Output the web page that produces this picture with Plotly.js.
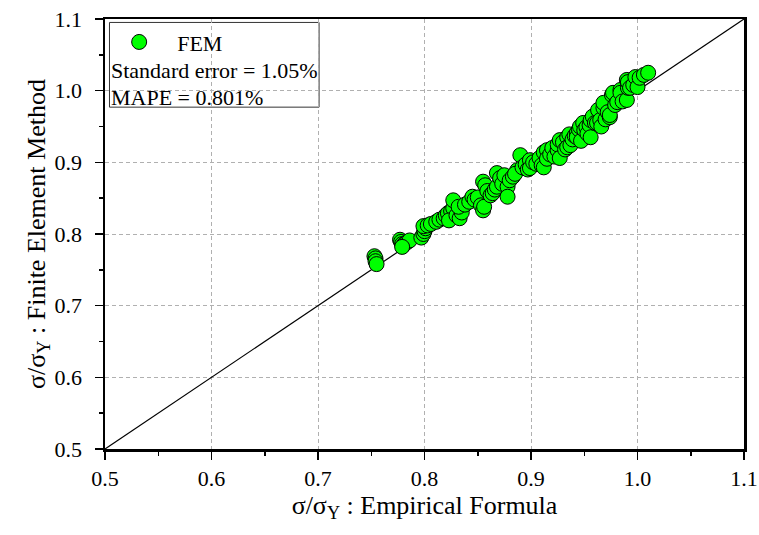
<!DOCTYPE html>
<html><head><meta charset="utf-8">
<script src="https://cdn.plot.ly/plotly-3.0.1.min.js"></script>
<style>html,body{margin:0;padding:0;background:#fff}#chart{width:759px;height:535px}</style>
</head><body><div id="chart"></div>
<script>
const xEmp = [0.753,0.754,0.754,0.755,
0.777,0.778,0.779,0.780,0.782,0.784,0.786,0.779,
0.797,0.799,0.800,0.801,0.799,0.803,0.806,
0.811,0.814,0.818,0.820,0.822,0.825,0.827,0.823,0.827,0.830,0.833,0.835,0.832,0.838,
0.842,0.845,0.847,0.850,0.853,0.855,0.856,0.855,0.857,0.859,0.862,0.864,0.866,0.868,0.868,0.871,0.873,
0.875,0.878,0.878,0.880,0.883,0.887,0.885,0.890,0.892,0.895,0.897,0.899,0.899,0.902,0.905,
0.908,0.910,0.912,0.912,0.915,0.915,0.918,0.920,0.922,0.925,0.925,0.927,0.927,0.930,0.932,0.934,0.934,0.936,0.937,0.939,
0.941,0.943,0.943,0.945,0.946,0.947,0.949,0.950,0.952,0.953,0.955,0.956,0.956,0.958,0.960,0.962,0.963,0.965,0.966,0.968,0.968,0.970,
0.972,0.974,0.974,0.976,0.977,0.979,0.981,0.984,0.984,0.986,0.990,0.990,0.991,0.991,0.993,0.996,0.998,1.000,1.002,1.006,1.010];
const yFem = [0.769,0.766,0.762,0.758,
0.792,0.789,0.786,0.784,0.787,0.789,0.791,0.782,
0.795,0.800,0.804,0.808,0.811,0.812,0.814,
0.817,0.820,0.822,0.826,0.829,0.832,0.836,0.819,0.847,0.826,0.822,0.830,0.838,0.841,
0.845,0.852,0.848,0.851,0.840,0.833,0.838,0.873,0.868,0.860,0.854,0.857,0.862,0.866,0.885,0.878,0.870,
0.882,0.866,0.852,0.875,0.880,0.889,0.884,0.910,0.893,0.897,0.890,0.903,0.892,0.900,0.898,
0.906,0.896,0.914,0.893,0.917,0.905,0.911,0.920,0.908,0.917,0.925,0.906,0.931,0.928,0.918,0.935,0.921,0.939,0.924,0.932,
0.937,0.941,0.935,0.946,0.950,0.930,0.955,0.945,0.949,0.940,0.952,0.959,0.935,0.964,0.955,0.955,0.973,0.959,0.950,0.976,0.983,0.960,
0.970,0.963,0.966,0.994,0.997,0.980,0.984,1.001,0.997,0.985,1.015,0.987,1.004,1.012,1.004,1.008,1.019,1.005,1.018,1.022,1.025];
const refLine = [0.5, 1.1];
const tickVals = [0.5,0.6,0.7,0.8,0.9,1.0,1.1];
const tickText = ['0.5','0.6','0.7','0.8','0.9','1.0','1.1'];
const statLines = ['Standard error = 1.05%', 'MAPE = 0.801%'];

const FAM = 'Liberation Serif';
const axisCommon = {
  range:[0.5,1.1], tickvals:tickVals, ticktext:tickText,
  ticks:'outside', ticklen:8, tickwidth:1.5, tickcolor:'#000',
  showline:true, linecolor:'#000', linewidth:2.5, mirror:true,
  showgrid:true, gridcolor:'#b0b0b0', gridwidth:1, griddash:'4px,3px',
  zeroline:false, tickfont:{family:FAM, size:22, color:'#000'},
  minor:{dtick:0.05, ticks:'outside', ticklen:4, tickwidth:1.5, tickcolor:'#000', showgrid:false}
};
const data = [
  {x:refLine, y:refLine, mode:'lines', line:{color:'#000', width:1.2}, showlegend:false, hoverinfo:'skip'},
  {x:xEmp, y:yFem, mode:'markers', name:'FEM', type:'scatter',
   marker:{size:15, color:'#00ff00', line:{color:'#000', width:1}}}
];
const layout = {
  width:759, height:535,
  margin:{l:105, r:15, t:19, b:86},
  paper_bgcolor:'#fff', plot_bgcolor:'#fff',
  font:{family:FAM, color:'#000', size:22},
  xaxis:Object.assign({}, axisCommon, {title:{text:'σ/σ<sub>Y</sub> : Empirical Formula', font:{family:FAM, size:26, color:'#000'}, standoff:0}}),
  yaxis:Object.assign({}, axisCommon, {ticklabelstandoff:8, title:{text:'σ/σ<sub>Y</sub> : Finite Element Method', font:{family:FAM, size:26, color:'#000'}, standoff:2}}),
  showlegend:true,
  legend:{x:-0.006, y:0.995, xanchor:'left', yanchor:'top', bgcolor:'rgba(0,0,0,0)', borderwidth:0,
          font:{family:FAM, size:22, color:'#000'}, itemwidth:66},
  shapes:[{type:'rect', xref:'paper', yref:'paper', x0:0.007, x1:0.335, y0:0.795, y1:0.992,
           line:{color:'#333', width:1}, fillcolor:'rgba(255,255,255,1)', layer:'below'}],
  annotations:[
    {xref:'paper', yref:'paper', x:0.006, y:0.881, xanchor:'left', yanchor:'middle', showarrow:false,
     text:statLines[0], font:{family:FAM, size:22, color:'#000'}},
    {xref:'paper', yref:'paper', x:0.006, y:0.818, xanchor:'left', yanchor:'middle', showarrow:false,
     text:statLines[1], font:{family:FAM, size:22, color:'#000'}}
  ]
};
Plotly.newPlot('chart', data, layout, {displayModeBar:false, staticPlot:true});
</script></body></html>
